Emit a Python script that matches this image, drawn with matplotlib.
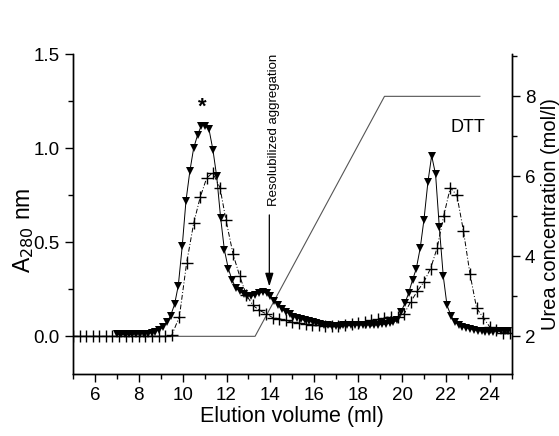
import matplotlib
matplotlib.use('Agg')
import matplotlib.pyplot as plt
from matplotlib.ticker import MultipleLocator

plt.rcParams['font.family'] = ['Liberation Sans', 'DejaVu Sans']

# elution profile, filled triangles (A280)
tri_x = [7.00, 7.18, 7.35, 7.53, 7.70, 7.88, 8.05, 8.23, 8.40, 8.58, 8.75, 8.93,
         9.10, 9.28, 9.45, 9.63, 9.80, 9.98, 10.15, 10.33, 10.50, 10.68, 10.85,
         11.03, 11.20, 11.38, 11.55, 11.73, 11.90, 12.08, 12.25, 12.43, 12.60,
         12.78, 12.95, 13.13, 13.30, 13.48, 13.65, 13.83, 14.00, 14.18, 14.35,
         14.53, 14.70, 14.88, 15.05, 15.23, 15.40, 15.58, 15.75, 15.93, 16.10,
         16.28, 16.45, 16.63, 16.80, 16.98, 17.15, 17.33, 17.50, 17.68, 17.85,
         18.03, 18.20, 18.38, 18.55, 18.73, 18.90, 19.08, 19.25, 19.43, 19.60,
         19.78, 19.95, 20.13, 20.30, 20.48, 20.65, 20.83, 21.00, 21.18, 21.35,
         21.53, 21.70, 21.88, 22.05, 22.23, 22.40, 22.58, 22.75, 22.93, 23.10,
         23.28, 23.45, 23.63, 23.80, 23.98, 24.15, 24.33, 24.50, 24.68, 24.85]
tri_y = [0.01, 0.01, 0.01, 0.01, 0.01, 0.012, 0.012, 0.015, 0.015, 0.02, 0.025, 0.035,
         0.05, 0.075, 0.11, 0.17, 0.27, 0.48, 0.72, 0.88, 1.00, 1.07, 1.12,
         1.12, 1.10, 0.99, 0.85, 0.63, 0.46, 0.36, 0.30, 0.255, 0.24,
         0.225, 0.215, 0.215, 0.22, 0.23, 0.235, 0.23, 0.215, 0.19, 0.165,
         0.145, 0.13, 0.12, 0.105, 0.10, 0.09, 0.085, 0.08, 0.075, 0.07,
         0.065, 0.06, 0.06, 0.055, 0.055, 0.055, 0.06, 0.06, 0.06, 0.06,
         0.06, 0.06, 0.06, 0.06, 0.06, 0.06, 0.065, 0.065, 0.07, 0.075,
         0.085, 0.13, 0.175, 0.23, 0.30, 0.36, 0.47, 0.62, 0.82, 0.96,
         0.86, 0.58, 0.32, 0.165, 0.11, 0.078, 0.06, 0.05, 0.045, 0.04,
         0.035, 0.03, 0.03, 0.025, 0.025, 0.025, 0.03, 0.03, 0.03, 0.03]

# elution profile, crosses (A280)
plus_x = [5.0, 5.3, 5.6, 5.9, 6.2, 6.5, 6.8, 7.1, 7.4, 7.7, 8.0, 8.3, 8.6, 8.9,
          9.2, 9.5, 9.85, 10.18, 10.5, 10.8, 11.09, 11.37, 11.7, 11.97, 12.3,
          12.6, 12.9, 13.2, 13.5, 13.8, 14.1, 14.4, 14.7, 15.0, 15.3, 15.6, 15.9,
          16.2, 16.5, 16.8, 17.1, 17.4, 17.7, 18.0, 18.3, 18.6, 18.9, 19.2, 19.5,
          19.8, 20.1, 20.4, 20.7, 21.0, 21.3, 21.6, 21.9, 22.2, 22.5, 22.8, 23.1,
          23.4, 23.7, 24.0, 24.3, 24.6, 24.9]
plus_y = [0.0, 0.0, 0.0, 0.0, 0.0, 0.0, 0.0, 0.0, 0.0, 0.0, 0.0, 0.0, 0.0, 0.0,
          0.0, 0.005, 0.105, 0.39, 0.60, 0.74, 0.84, 0.87, 0.79, 0.62, 0.435,
          0.32, 0.22, 0.165, 0.138, 0.12, 0.10, 0.094, 0.085, 0.075, 0.07, 0.065, 0.06,
          0.06, 0.055, 0.055, 0.055, 0.06, 0.065, 0.07, 0.075, 0.085, 0.09, 0.10, 0.105,
          0.105, 0.12, 0.185, 0.24, 0.29, 0.36, 0.47, 0.64, 0.79, 0.75, 0.56, 0.33,
          0.15, 0.10, 0.05, 0.032, 0.02, 0.02]

# urea gradient (right axis)
urea_x = [5.0, 13.3, 19.2, 23.55]
urea_y = [2, 2, 8, 8]

fig = plt.figure(figsize=(5.59, 4.36), dpi=100)
ax = fig.add_axes([0.1306, 0.1422, 0.7848, 0.7339])
ax2 = ax.twinx()

ax2.plot(urea_x, urea_y, color='#555555', lw=0.8)

ax.plot(plus_x, plus_y, color='black', lw=0.7, ls=(0, (5, 2, 1, 2)),
        marker='+', ms=8, mew=1.0)
ax.plot(tri_x, tri_y, color='black', lw=0.7, marker='v', ms=5.5, mew=0)

ax.set_zorder(ax2.get_zorder() + 1)
ax.patch.set_visible(False)

ax.set_xlim(5, 25)
ax.set_ylim(-0.2, 1.5)
ax2.set_ylim(1.058, 9.058)

ax.xaxis.set_major_locator(MultipleLocator(2))
ax.xaxis.set_minor_locator(MultipleLocator(1))
ax.yaxis.set_major_locator(MultipleLocator(0.5))
ax.yaxis.set_minor_locator(MultipleLocator(0.25))
ax2.yaxis.set_major_locator(MultipleLocator(2))
ax2.yaxis.set_minor_locator(MultipleLocator(1))

for a in (ax, ax2):
    a.spines['top'].set_visible(False)
    a.tick_params(which='major', length=6, width=1.0, labelsize=13.5)
    a.tick_params(which='minor', length=3.5, width=1.0)
    for s in a.spines.values():
        s.set_linewidth(1.0)

ax.set_xlabel('Elution volume (ml)', fontsize=15.5, labelpad=1)
ax.set_ylabel('A$_{280}$ nm', fontsize=16.5)
ax.yaxis.set_label_coords(-0.085, 0.45)
ax2.set_ylabel('Urea concentration (mol/l)', fontsize=14.5, labelpad=4)

ax.text(10.9, 1.22, '*', fontsize=16, fontweight='bold', ha='center', va='center')
ax.text(22.2, 1.11, 'DTT', fontsize=13, ha='left', va='center')
ax.annotate('', xy=(13.95, 0.25), xytext=(13.95, 0.66),
            arrowprops=dict(arrowstyle='-|>,head_length=0.8,head_width=0.25',
                            color='black', lw=0.9))
ax.text(14.18, 0.69, 'Resolubilized aggregation', rotation=90, fontsize=9.5,
        ha='center', va='bottom')

fig.savefig('out.png', dpi=100)
